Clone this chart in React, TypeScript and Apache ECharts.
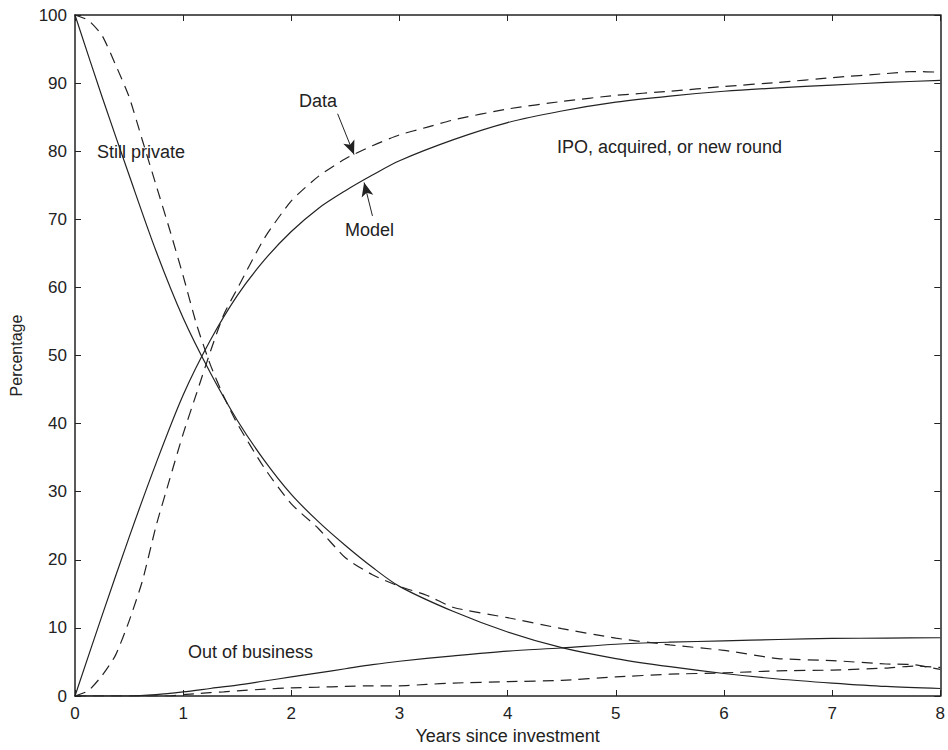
import React, { useEffect, useRef } from "react";
import * as echarts from "echarts";

// Model curves (solid)
const modelYears = [0, 0.25, 0.5, 0.75, 1, 1.25, 1.5, 1.75, 2, 2.25, 2.5, 2.75, 3, 3.5, 4, 4.5, 5, 5.5, 6, 6.5, 7, 7.5, 8];
const modelPrivate = [100, 88, 76.5, 65.3, 55.5, 47.5, 40.5, 34.6, 29.6, 25.6, 22.1, 18.9, 16.1, 12.4, 9.4, 7.1, 5.5, 4.3, 3.3, 2.5, 1.9, 1.4, 1.1];
const modelIPO = [0, 11.8, 23.3, 34.2, 44.2, 52.2, 58.8, 64, 68.2, 71.6, 74.2, 76.5, 78.6, 81.7, 84.2, 85.9, 87.2, 88.1, 88.8, 89.3, 89.7, 90.1, 90.4];
const modelOOB = [0, 0, 0, 0.2, 0.6, 1.1, 1.6, 2.2, 2.8, 3.4, 4.0, 4.6, 5.1, 5.9, 6.6, 7.05, 7.6, 7.9, 8.1, 8.3, 8.45, 8.5, 8.55];

// Data curves (dashed)
const dataYears = [0, 0.125, 0.25, 0.375, 0.5, 0.625, 0.75, 0.875, 1, 1.125, 1.25, 1.375, 1.5, 1.75, 2, 2.25, 2.5, 2.75, 3, 3.25, 3.5, 4, 4.5, 5, 5.5, 6, 6.5, 7, 7.5, 7.75, 8];
const dataPrivate = [100, 99.2, 97, 92.7, 88, 81.5, 75, 68.5, 61.7, 54.5, 48.7, 44, 40, 33.5, 28.2, 24.6, 20.3, 17.8, 16.1, 14.8, 13.0, 11.5, 9.9, 8.5, 7.5, 6.7, 5.5, 5.2, 4.7, 4.6, 3.9];
const dataIPO = [0, 0.8, 3, 6, 11, 17, 25, 31.8, 38.5, 44.5, 50.5, 56, 59.8, 67.2, 72.7, 76.3, 78.9, 80.8, 82.4, 83.5, 84.6, 86.2, 87.3, 88.2, 88.8, 89.5, 90.1, 90.8, 91.4, 91.7, 91.6];
const dataOOB = [0, 0, 0, 0, 0, 0, 0, 0, 0.2, 0.35, 0.5, 0.6, 0.75, 1.0, 1.2, 1.3, 1.4, 1.5, 1.5, 1.7, 1.9, 2.1, 2.3, 2.8, 3.2, 3.4, 3.7, 3.8, 4.1, 4.4, 4.2];

// Annotation arrows [fromX, fromY, toX, toY] in data units
const dataArrow = [2.428, 85.5, 2.58, 79.5];
const modelArrow = [2.75, 70.5, 2.673, 75.4];

const FONT = "'Liberation Sans', Arial, Helvetica, sans-serif";
const INK = "#222";

const pairs = (xs: number[], ys: number[]) => xs.map((x, i) => [x, ys[i]]);

export default function App() {
  const ref = useRef<HTMLDivElement>(null);
  useEffect(() => {
    if (!ref.current) return;
    const chart = echarts.init(ref.current, null, { renderer: "svg" });
    const axisLine = { show: true, onZero: false, lineStyle: { color: INK, width: 1.5 } };
    const axisTick = { show: true, inside: true, length: 6, lineStyle: { color: INK, width: 1 } };
    const tickLabel = { color: INK, fontSize: 17, fontFamily: FONT };
    const solid = { color: INK, width: 1.2, type: "solid" as const };
    const dashed = { color: INK, width: 1.2, type: [11, 7] as any };
    const lineSeries = (name: string, data: number[][], style: any, smooth: number, extra: any = {}) => ({
      type: "line",
      name,
      data,
      showSymbol: false,
      symbol: "none",
      smooth,
      lineStyle: style,
      itemStyle: { color: INK },
      silent: true,
      ...extra,
    });
    const arrow = (a: number[]) => [
      { coord: [a[0], a[1]], symbol: "none" },
      { coord: [a[2], a[3]], symbol: "arrow", symbolSize: [9, 14] },
    ];
    const textEl = (text: string, x: number, y: number) => ({
      type: "text",
      x,
      y,
      style: {
        text,
        fill: INK,
        fontSize: 18,
        fontFamily: FONT,
        textAlign: "left",
        textVerticalAlign: "middle",
      },
    });
    chart.setOption({
      animation: false,
      backgroundColor: "#ffffff",
      grid: { left: 71, right: 7, top: 15, bottom: 51, containLabel: false },
      xAxis: [
        {
          type: "value",
          min: 0,
          max: 8,
          interval: 1,
          position: "bottom",
          axisLine,
          axisTick,
          axisLabel: { ...tickLabel, margin: 9 },
          splitLine: { show: false },
          name: "Years since investment",
          nameLocation: "middle",
          nameGap: 31,
          nameTextStyle: { color: INK, fontSize: 18, fontFamily: FONT },
        },
        {
          type: "value",
          min: 0,
          max: 8,
          interval: 1,
          position: "top",
          axisLine,
          axisTick,
          axisLabel: { show: false },
          splitLine: { show: false },
        },
      ],
      yAxis: [
        {
          type: "value",
          min: 0,
          max: 100,
          interval: 10,
          position: "left",
          axisLine,
          axisTick,
          axisLabel: { ...tickLabel, margin: 8 },
          splitLine: { show: false },
          name: "Percentage",
          nameLocation: "middle",
          nameGap: 51,
          nameTextStyle: { color: INK, fontSize: 16, fontFamily: FONT },
        },
        {
          type: "value",
          min: 0,
          max: 100,
          interval: 10,
          position: "right",
          axisLine,
          axisTick,
          axisLabel: { show: false },
          splitLine: { show: false },
        },
      ],
      series: [
        lineSeries("Model still private", pairs(modelYears, modelPrivate), solid, 0.3),
        lineSeries("Model IPO", pairs(modelYears, modelIPO), solid, 0.3, {
          markLine: {
            silent: true,
            label: { show: false },
            lineStyle: { color: INK, width: 1, type: "solid" },
            data: [arrow(dataArrow), arrow(modelArrow)],
          },
        }),
        lineSeries("Model out of business", pairs(modelYears, modelOOB), solid, 0.3),
        lineSeries("Data still private", pairs(dataYears, dataPrivate), dashed, 0.2),
        lineSeries("Data IPO", pairs(dataYears, dataIPO), dashed, 0.2),
        lineSeries("Data out of business", pairs(dataYears, dataOOB), dashed, 0.2),
      ],
      graphic: [
        textEl("Still private", 97, 152),
        textEl("Data", 299, 101),
        textEl("Model", 345, 230),
        textEl("IPO, acquired, or new round", 557, 147),
        textEl("Out of business", 188, 652),
      ],
    });
    return () => chart.dispose();
  }, []);
  return (
    <div
      ref={ref}
      style={{ position: "fixed", left: 0, top: 0, width: 948, height: 750, background: "#fff" }}
    />
  );
}
